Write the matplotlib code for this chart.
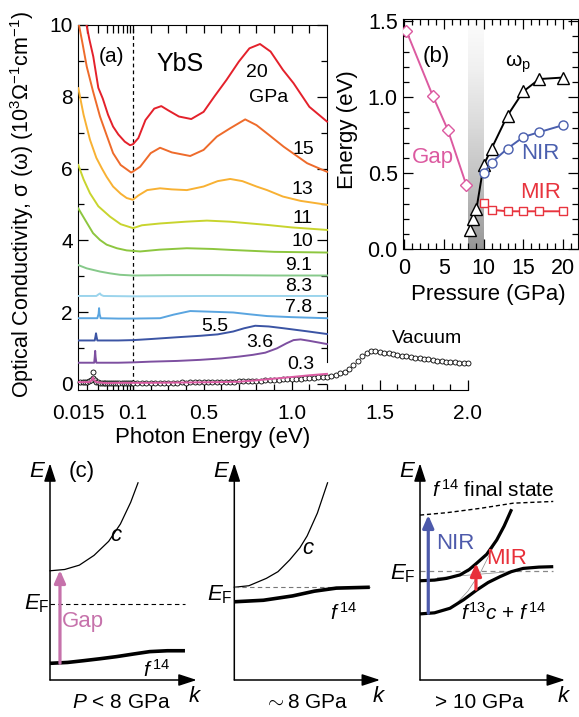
import numpy as np
import matplotlib
matplotlib.use("Agg")
import matplotlib.pyplot as plt

plt.rcParams['font.family'] = ['Liberation Sans', 'DejaVu Sans']
plt.rcParams['mathtext.fontset'] = 'custom'
plt.rcParams['mathtext.rm'] = 'Liberation Sans'
plt.rcParams['mathtext.it'] = 'Liberation Sans:italic'
plt.rcParams['mathtext.bf'] = 'Liberation Sans:bold'

##data (a) optical conductivity, 10^3 Ohm^-1 cm^-1, curves already offset
pressures = ['20', '15', '13', '11', '10', '9.1', '8.3', '7.8', '5.5', '3.6', '0.3']

p20_e = [0.019, 0.022, 0.0252, 0.03, 0.035, 0.042, 0.05, 0.06, 0.075, 0.09, 0.1, 0.13, 0.17, 0.22, 0.26,
         0.3, 0.36, 0.43, 0.5, 0.56, 0.63, 0.7, 0.76, 0.82, 0.88, 0.95, 1.01, 1.1, 1.2]
p20_s = [10.2, 9.6, 9.12, 8.25, 7.95, 7.5, 7.17, 6.95, 6.75, 6.65, 6.68, 6.85, 7.35, 7.67, 7.74,
         7.62, 7.45, 7.38, 7.58, 8.0, 8.47, 8.98, 9.35, 9.47, 9.26, 8.75, 8.38, 7.72, 7.31]

p15_e = [0.015, 0.0175, 0.0201, 0.025, 0.0318, 0.04, 0.05, 0.065, 0.0934, 0.1, 0.14, 0.2, 0.253, 0.32,
         0.424, 0.5, 0.575, 0.65, 0.736, 0.8, 0.87, 0.954, 1.087, 1.2]
p15_s = [10.1, 9.45, 8.84, 8.15, 7.45, 6.93, 6.43, 6.1, 5.89, 5.92, 6.05, 6.43, 6.58, 6.45,
         6.35, 6.52, 6.89, 7.12, 7.37, 7.21, 6.94, 6.61, 6.15, 5.91]

p13_e = [0.015, 0.018, 0.0225, 0.028, 0.034, 0.04, 0.05, 0.065, 0.08, 0.099, 0.13, 0.18, 0.253, 0.32,
         0.405, 0.5, 0.58, 0.651, 0.72, 0.8, 0.86, 0.95, 1.05, 1.2]
p13_s = [8.24, 7.5, 6.8, 6.3, 6.0, 5.77, 5.5, 5.3, 5.18, 5.13, 5.25, 5.4, 5.45, 5.42,
         5.4, 5.5, 5.65, 5.71, 5.65, 5.5, 5.4, 5.22, 5.1, 4.99]

p11_e = [0.015, 0.018, 0.0225, 0.03, 0.045, 0.065, 0.1, 0.15, 0.253, 0.4, 0.519, 0.65, 0.86, 1.0, 1.2]
p11_s = [6.1, 5.7, 5.31, 4.95, 4.66, 4.45, 4.34, 4.42, 4.47, 4.52, 4.55, 4.52, 4.43, 4.36, 4.29]

p10_e = [0.015, 0.02, 0.025, 0.0318, 0.04, 0.057, 0.08, 0.14, 0.25, 0.405, 0.55, 0.668, 0.9, 1.2]
p10_s = [4.89, 4.5, 4.2, 4.01, 3.88, 3.78, 3.72, 3.69, 3.74, 3.78, 3.76, 3.73, 3.68, 3.66]

p91_e = [0.015, 0.02, 0.0318, 0.045, 0.0636, 0.1, 0.3, 0.6, 0.9, 1.2]
p91_s = [3.31, 3.22, 3.13, 3.08, 3.04, 3.02, 3.03, 3.03, 3.02, 3.02]

p83_e = [0.015, 0.028, 0.0305, 0.0318, 0.033, 0.036, 0.1, 0.5, 1.0, 1.2]
p83_s = [2.45, 2.45, 2.5, 2.52, 2.48, 2.45, 2.44, 2.45, 2.45, 2.45]

p78_e = [0.015, 0.029, 0.0303, 0.0308, 0.0313, 0.0325, 0.06, 0.1, 0.253, 0.33, 0.424, 0.55, 0.668,
         0.76, 0.86, 1.0, 1.2]
p78_s = [1.83, 1.83, 1.95, 2.11, 1.95, 1.83, 1.82, 1.82, 1.83, 1.93, 2.03, 2.01, 1.99,
         1.94, 1.89, 1.86, 1.83]

p55_e = [0.015, 0.0265, 0.0272, 0.0277, 0.0282, 0.029, 0.06, 0.1, 0.2, 0.35, 0.48, 0.58, 0.668,
         0.73, 0.793, 0.87, 0.954, 1.08, 1.2]
p55_s = [1.21, 1.21, 1.32, 1.41, 1.32, 1.21, 1.21, 1.22, 1.25, 1.3, 1.34, 1.38, 1.46,
         1.55, 1.62, 1.6, 1.55, 1.47, 1.39]

p36_e = [0.015, 0.026, 0.0265, 0.0269, 0.0273, 0.028, 0.06, 0.1, 0.2, 0.35, 0.48, 0.6, 0.7, 0.78,
         0.85, 0.916, 0.97, 1.01, 1.05, 1.1, 1.2]
p36_s = [0.59, 0.59, 0.75, 0.92, 0.75, 0.59, 0.59, 0.6, 0.62, 0.64, 0.67, 0.71, 0.76, 0.81,
         0.87, 0.99, 1.13, 1.22, 1.24, 1.2, 1.11]

p03_e = [0.015, 0.022, 0.024, 0.025, 0.026, 0.028, 0.04, 0.06, 0.1, 0.2, 0.4, 0.6, 0.7, 0.8,
         0.954, 1.1, 1.2]
p03_s = [0.05, 0.05, 0.1, 0.18, 0.1, 0.05, 0.02, 0.03, 0.03, 0.03, 0.04, 0.05, 0.06, 0.1,
         0.17, 0.24, 0.28]

vac_e = [0.016, 0.0175, 0.019, 0.0205, 0.022, 0.0235, 0.025, 0.025, 0.0265, 0.028, 0.03, 0.032,
         0.034, 0.036, 0.038, 0.041, 0.044, 0.047, 0.05, 0.054, 0.058, 0.062, 0.067, 0.072,
         0.077, 0.083, 0.089, 0.095,
         0.100, 0.125, 0.150, 0.175, 0.200, 0.225, 0.250, 0.275, 0.300, 0.325, 0.350, 0.375,
         0.400, 0.425, 0.450, 0.475, 0.500, 0.525, 0.550, 0.575, 0.600, 0.625, 0.650, 0.675,
         0.700, 0.725, 0.750, 0.775, 0.800, 0.825, 0.850, 0.875, 0.900, 0.925, 0.950, 0.975,
         1.000, 1.025, 1.050, 1.075, 1.100, 1.125, 1.150, 1.175, 1.200, 1.225, 1.250, 1.275,
         1.300, 1.325, 1.350, 1.375, 1.400, 1.425, 1.450, 1.475, 1.500, 1.525, 1.550, 1.575,
         1.600, 1.625, 1.650, 1.675, 1.700, 1.725, 1.750, 1.775, 1.800, 1.825, 1.850, 1.875,
         1.900, 1.925, 1.950, 1.975, 2.000]
vac_s = [0.05, 0.04, 0.06, 0.05, 0.07, 0.1, 0.16, 0.34, 0.1, 0.06, 0.04, 0.03,
         0.03, 0.02, 0.02, 0.02, 0.03, 0.02, 0.02, 0.03, 0.02, 0.03, 0.02, 0.03,
         0.02, 0.03, 0.02, 0.03,
         0.03, 0.02, 0.03, 0.02, 0.03, 0.03, 0.02, 0.03, 0.03, 0.03, 0.03, 0.04,
         0.03, 0.04, 0.04, 0.04, 0.05, 0.04, 0.05, 0.05, 0.05, 0.06, 0.06, 0.06,
         0.07, 0.07, 0.08, 0.08, 0.09, 0.09, 0.10, 0.11, 0.11, 0.12, 0.13, 0.13,
         0.14, 0.15, 0.15, 0.16, 0.17, 0.17, 0.18, 0.19, 0.20, 0.22, 0.25, 0.29,
         0.34, 0.42, 0.53, 0.65, 0.77, 0.87, 0.93, 0.92, 0.90, 0.87, 0.85, 0.83,
         0.81, 0.79, 0.77, 0.75, 0.73, 0.71, 0.70, 0.68, 0.66, 0.65, 0.63, 0.62,
         0.61, 0.60, 0.59, 0.58, 0.57]

##data (b) energies vs pressure
gap_p = [0.3, 3.6, 5.5, 7.8]
gap_e = [1.435, 1.01, 0.785, 0.426]
wp_p = [8.3, 8.7, 9.1, 10, 11, 13, 15, 17, 20]
wp_e = [0.13, 0.20, 0.267, 0.554, 0.663, 0.88, 1.039, 1.12, 1.13]
nir_p = [10, 11, 13, 15, 17, 20]
nir_e = [0.50, 0.571, 0.663, 0.739, 0.771, 0.817]
mir_p = [10, 11, 13, 15, 17, 20]
mir_e = [0.306, 0.26, 0.25, 0.25, 0.25, 0.25]

##data (c) schematic bands, k and E as fraction of the axis arrows
c1_k = [0, 0.1, 0.2, 0.3, 0.4, 0.48, 0.55, 0.6]
c1_E = [0.504, 0.51, 0.53, 0.575, 0.64, 0.72, 0.82, 0.91]
f1_k = [0, 0.12, 0.227, 0.34, 0.455, 0.57, 0.68, 0.8, 0.92]
f1_E = [0.077, 0.081, 0.089, 0.098, 0.108, 0.12, 0.131, 0.135, 0.135]
ef1 = 0.349
c2_k = [0, 0.1, 0.22, 0.3, 0.38, 0.45, 0.5, 0.57, 0.64]
c2_E = [0.428, 0.435, 0.469, 0.5, 0.554, 0.61, 0.665, 0.77, 0.91]
f2_k = [0, 0.2, 0.4, 0.55, 0.7, 0.93]
f2_E = [0.361, 0.368, 0.388, 0.41, 0.424, 0.428]
ef2 = 0.428
fin3_k = [0, 0.184, 0.414, 0.643, 0.919]
fin3_E = [0.761, 0.772, 0.792, 0.816, 0.824]
up3_k = [0, 0.1, 0.184, 0.276, 0.34, 0.391, 0.46, 0.529, 0.58, 0.632]
up3_E = [0.458, 0.461, 0.469, 0.485, 0.51, 0.539, 0.58, 0.646, 0.71, 0.788]
lo3_k = [0, 0.1, 0.207, 0.3, 0.391, 0.47, 0.552, 0.63, 0.712, 0.82, 0.919]
lo3_E = [0.305, 0.31, 0.331, 0.37, 0.415, 0.45, 0.477, 0.5, 0.515, 0.521, 0.523]
bc3_k = [0.2, 0.253, 0.33, 0.42, 0.529, 0.632]
bc3_E = [0.33, 0.354, 0.41, 0.5, 0.646, 0.788]
bf3_k = [0.12, 0.62]
bf3_E = [0.472, 0.5]
ef3 = 0.504

colors = ['#e4212b', '#ee6b2b', '#f8b133', '#c8d42e', '#8dc63f', '#86c98a', '#9bd4ec',
          '#5aa5e0', '#3b54a4', '#7d4fa0', '#dc5ba3']
spectra = [(p20_e, p20_s), (p15_e, p15_s), (p13_e, p13_s), (p11_e, p11_s), (p10_e, p10_s),
           (p91_e, p91_s), (p83_e, p83_s), (p78_e, p78_s), (p55_e, p55_s), (p36_e, p36_s),
           (p03_e, p03_s)]

#log below 0.1 eV, linear above
DEC = 0.3772
def fwd(x):
    x = np.asarray(x, dtype=float)
    with np.errstate(divide='ignore', invalid='ignore'):
        lg = 0.1 + DEC * np.log10(np.clip(x, 1e-9, None) / 0.1)
    return np.where(x < 0.1, lg, x)

def inv(y):
    y = np.asarray(y, dtype=float)
    ex = 0.1 * 10 ** ((np.minimum(y, 0.1) - 0.1) / DEC)
    return np.where(y < 0.1, ex, y)

W, H = 579, 717
fig = plt.figure(figsize=(W / 100, H / 100), dpi=100)

#############################
## (a)
#############################
axa = fig.add_axes([78.3 / W, 1 - 390 / H, 389.7 / W, 365 / H])
axa.set_facecolor('none')
axa.set_xscale('function', functions=(fwd, inv))
axa.set_xlim(0.015, 2.0)
axa.set_ylim(-0.17, 10)
axa.axvline(0.1, color='k', lw=0.9, ls=(0, (3, 2.5)), zorder=1)
axa.plot(vac_e, vac_s, 'o', ms=3.6, mfc='white', mec='k', mew=0.6, zorder=2, clip_on=False)
for (e, s), c in zip(spectra, colors):
    axa.plot(e, s, color=c, lw=1.4, zorder=3)

axa.spines['top'].set_bounds(0.015, 1.2)
axa.spines['right'].set_position(('data', 1.2))
axa.spines['right'].set_bounds(0.6, 10)
minor_x = [0.02, 0.03, 0.04, 0.05, 0.06, 0.07, 0.08, 0.09, 0.2, 0.3, 0.4, 0.6, 0.7, 0.8, 0.9,
           1.1, 1.2, 1.3, 1.4, 1.6, 1.7, 1.8, 1.9]
axa.set_xticks([0.1, 0.5, 1.0, 1.5, 2.0])
axa.set_xticks(minor_x, minor=True)
axa.set_xticklabels([])
axa.set_yticks([0, 2, 4, 6, 8, 10])
axa.set_yticks([1, 3, 5, 7, 9], minor=True)
axa.tick_params(which='both', direction='in', top=False, right=True, labelright=False,
                width=0.9, labelsize=15)
axa.tick_params(which='major', length=7)
axa.tick_params(which='minor', length=4)
axa.tick_params(axis='y', pad=4)
#x tick labels placed under their energies
for xv, xl in zip([0.015, 0.1, 0.5, 1.0, 1.5, 2.0], ['0.015', '0.1', '0.5', '1.0', '1.5', '2.0']):
    axa.text(xv, -0.82, xl, fontsize=15, ha='center', va='center')
top_x = [0.02, 0.03, 0.04, 0.05, 0.06, 0.07, 0.08, 0.09, 0.1, 0.2, 0.3, 0.4, 0.5, 0.6, 0.7,
         0.8, 0.9, 1.0, 1.1]
axa.plot(top_x, [10] * len(top_x), ls='none', marker=3, ms=5.5, mew=0.9, color='k', clip_on=False)

lab_pos = [(0.805, 8.69), (1.066, 6.52), (1.06, 5.43), (1.06, 4.62), (1.06, 3.96), (1.04, 3.31),
           (1.04, 2.71), (1.04, 2.12), (0.566, 1.60), (0.82, 1.14), (1.05, 0.53)]
for p, (x, y) in zip(pressures, lab_pos):
    axa.text(x, y, p, fontsize=14, ha='center', va='center')
axa.text(0.867, 7.97, 'GPa', fontsize=14, ha='center', va='center')
axa.text(1.77, 1.27, 'Vacuum', fontsize=14, ha='center', va='center')
axa.text(0.0478, 9.12, '(a)', fontsize=15, ha='center', va='center')
axa.text(0.367, 8.91, 'YbS', fontsize=18, ha='center', va='center')
fig.text(22 / W, 1 - 205 / H, 'Optical Conductivity, σ (ω) (10$^3$Ω$^{-1}$cm$^{-1}$)',
         rotation=90, ha='center', va='center', fontsize=15.5)
fig.text(213 / W, 1 - 438 / H, 'Photon Energy (eV)', ha='center', va='center', fontsize=16)

#############################
## (b)
#############################
axb = fig.add_axes([403.3 / W, 1 - 249.3 / H, 175 / W, 230.3 / H])
axb.set_xlim(-0.1, 21.9)
axb.set_ylim(0, 1.515)
grad = np.linspace(0.02, 0.5, 120).reshape(-1, 1)
axb.imshow(grad, extent=[8, 10, 0, 1.515], origin='upper', cmap='Greys', vmin=0, vmax=1,
           aspect='auto', zorder=0)
axb.plot(gap_p, gap_e, '-D', color='#dc5aa0', ms=6.5, mfc='white', mew=1.0, lw=1.4, zorder=3)
axb.plot(wp_p, wp_e, '-^', color='k', ms=9, mfc='white', mew=1.0, lw=1.4, zorder=3)
axb.plot(nir_p, nir_e, '-o', color='#4a5fae', ms=6.5, mfc='white', mew=1.0, lw=1.4, zorder=3)
axb.plot(mir_p, mir_e, '-s', color='#e8343e', ms=6, mfc='white', mew=1.0, lw=1.4, zorder=3)
axb.set_xticks([0, 5, 10, 15, 20])
axb.set_xticks(range(0, 22), minor=True)
axb.set_yticks([0, 0.5, 1.0, 1.5], ['0.0', '0.5', '1.0', '1.5'])
axb.set_yticks(np.arange(0, 1.51, 0.1), minor=True)
axb.tick_params(which='both', direction='in', top=True, right=True, width=0.9, labelsize=15.5)
axb.tick_params(which='major', length=7)
axb.tick_params(which='minor', length=4.5)
axb.tick_params(axis='x', pad=6)
axb.tick_params(axis='y', pad=4)
axb.text(4.1, 1.266, '(b)', fontsize=16, ha='center', va='center')
axb.text(14.3, 1.22, r'ω$_\mathrm{p}$', fontsize=15, ha='center', va='center')
axb.text(3.6, 0.607, 'Gap', color='#dc5aa0', fontsize=16, ha='center', va='center')
axb.text(17.1, 0.63, 'NIR', color='#4a5fae', fontsize=16, ha='center', va='center')
axb.text(17.1, 0.372, 'MIR', color='#e8343e', fontsize=16, ha='center', va='center')
fig.text(348 / W, 1 - 130 / H, 'Energy (eV)', rotation=90, ha='center', va='center', fontsize=16)
fig.text(488 / W, 1 - 294 / H, 'Pressure (GPa)', ha='center', va='center', fontsize=16)

#############################
## (c)
#############################
def band_axes(x0, w):
    ax = fig.add_axes([x0 / W, 1 - 680 / H, w / W, 216.7 / H])
    ax.set_xlim(0, 1)
    ax.set_ylim(0, 1)
    ax.axis('off')
    for tip in [(1, 0), (0, 1)]:
        ax.annotate('', xy=tip, xytext=(0, 0), xycoords='axes fraction',
                    arrowprops=dict(arrowstyle='-|>,head_length=1.1,head_width=0.36',
                                    mutation_scale=10, lw=1.1, color='k', shrinkA=0, shrinkB=0),
                    annotation_clip=False)
    ax.text(-0.085, 0.961, '$E$', fontsize=16, ha='center', va='center')
    ax.text(0.99, -0.077, '$k$', fontsize=16, ha='center', va='center')
    return ax

def up_arrow(ax, k, e0, e1, col):
    ax.annotate('', xy=(k, e1), xytext=(k, e0),
                arrowprops=dict(arrowstyle='-|>,head_length=0.75,head_width=0.33',
                                mutation_scale=10, lw=2.3, color=col, shrinkA=0, shrinkB=0),
                annotation_clip=False)

#bottom captions sit low, as in the source
cap_y = -0.058

ax1 = band_axes(50, 146.7)
ax1.plot(c1_k, c1_E, color='k', lw=0.9, clip_on=False)
ax1.plot([0, 0.92], [ef1, ef1], color='k', lw=0.8, ls=(0, (4, 3)), clip_on=False)
ax1.plot(f1_k, f1_E, color='k', lw=2.6, clip_on=False, solid_capstyle='butt')
up_arrow(ax1, 0.068, 0.077, 0.507, '#c672ab')
ax1.text(0.216, 0.961, '(c)', fontsize=16, ha='center', va='center')
ax1.text(0.455, 0.669, '$c$', fontsize=16, ha='center', va='center')
ax1.text(-0.09, 0.35, r'$E_\mathrm{F}$', fontsize=16, ha='center', va='center')
ax1.text(0.227, 0.269, 'Gap', color='#c672ab', fontsize=16, ha='center', va='center')
ax1.text(0.727, 0.046, r'$f^{\,14}$', fontsize=15, ha='center', va='center')
ax1.text(0.49, cap_y, '$P$ < 8 GPa', fontsize=15, ha='center', va='top')

ax2 = band_axes(234.3, 145.7)
ax2.plot(c2_k, c2_E, color='k', lw=0.9, clip_on=False)
ax2.plot([0, 0.93], [ef2, ef2], color='#777777', lw=0.8, ls=(0, (4, 3)), clip_on=False)
ax2.plot(f2_k, f2_E, color='k', lw=2.6, clip_on=False, solid_capstyle='butt')
ax2.text(0.508, 0.608, '$c$', fontsize=16, ha='center', va='center')
ax2.text(-0.098, 0.392, r'$E_\mathrm{F}$', fontsize=16, ha='center', va='center')
ax2.text(0.748, 0.308, r'$f^{\,14}$', fontsize=15, ha='center', va='center')
ax2.text(0.49, cap_y, r'$\sim$8 GPa', fontsize=15, ha='center', va='top')

ax3 = band_axes(420, 145)
ax3.plot(fin3_k, fin3_E, color='k', lw=1.0, ls=(0, (3, 2)), clip_on=False)
ax3.plot([0, 0.917], [ef3, ef3], color='#888888', lw=0.9, ls=(0, (4, 3)), clip_on=False)
ax3.plot(bc3_k, bc3_E, color='#888888', lw=0.5, clip_on=False)
ax3.plot(bf3_k, bf3_E, color='#888888', lw=0.5, clip_on=False)
ax3.plot(up3_k, up3_E, color='k', lw=2.3, clip_on=False, solid_capstyle='butt')
ax3.plot(lo3_k, lo3_E, color='k', lw=2.3, clip_on=False, solid_capstyle='butt')
up_arrow(ax3, 0.057, 0.308, 0.761, '#4d5aab')
up_arrow(ax3, 0.386, 0.419, 0.539, '#e8303a')
ax3.text(0.506, 0.877, r'$f^{\,14}$ final state', fontsize=15, ha='center', va='center')
ax3.text(0.241, 0.631, 'NIR', color='#4d5aab', fontsize=16, ha='center', va='center')
ax3.text(0.598, 0.562, 'MIR', color='#e8303a', fontsize=16, ha='center', va='center')
ax3.text(-0.115, 0.492, r'$E_\mathrm{F}$', fontsize=16, ha='center', va='center')
ax3.text(0.574, 0.308, r'$f^{13}c$ + $f^{\,14}$', fontsize=15, ha='center', va='center')
ax3.text(0.407, cap_y, '> 10 GPa', fontsize=15, ha='center', va='top')

fig.savefig('out.png', dpi=100)
